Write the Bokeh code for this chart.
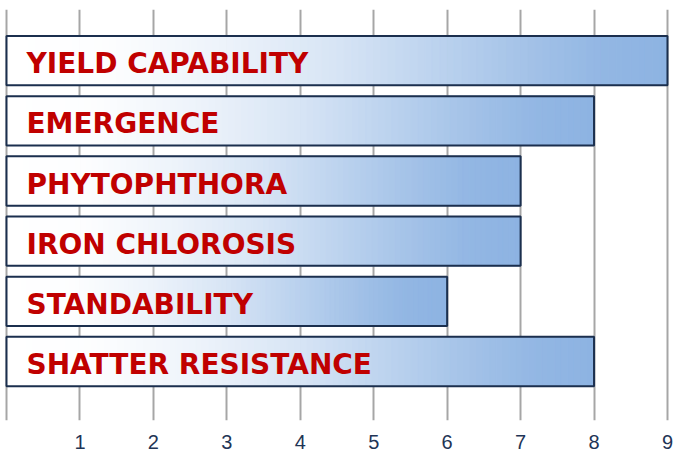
from bokeh.plotting import figure
from bokeh.models import Range1d, FixedTicker
from bokeh.core.properties import value
from bokeh.embed import file_html
from bokeh.resources import INLINE

categories = ["YIELD CAPABILITY", "EMERGENCE", "PHYTOPHTHORA",
              "IRON CHLOROSIS", "STANDABILITY", "SHATTER RESISTANCE"]
scores = [9, 8, 7, 7, 6, 8]
ticks = [0, 1, 2, 3, 4, 5, 6, 7, 8, 9]

p = figure(width=673, height=453, output_backend="svg", toolbar_location=None,
           x_range=Range1d(-0.0817, 9.082), y_range=Range1d(5.98, -0.85),
           min_border_left=0, min_border_right=0, min_border_top=9,
           min_border_bottom=33)
p.outline_line_color = None
p.background_fill_color = "white"
p.border_fill_color = "white"

p.yaxis.visible = False
p.ygrid.visible = False
p.xgrid.ticker = FixedTicker(ticks=ticks)
p.xgrid.grid_line_color = "#A6A6A6"
p.xgrid.grid_line_width = 2

ax = p.xaxis[0]
ax.ticker = FixedTicker(ticks=ticks[1:])
ax.axis_line_color = None
ax.major_tick_line_color = None
ax.minor_tick_line_color = None
ax.major_tick_out = 0
ax.major_tick_in = 0
ax.major_label_standoff = 14
ax.major_label_text_font = "Liberation Sans"
ax.major_label_text_font_size = "20px"
ax.major_label_text_color = "#1F3556"

# gradient profile (position fraction -> blend fraction)
stops = [(0.0, 0.0), (0.15, 0.02), (0.33, 0.16), (0.5, 0.35),
         (0.66, 0.6), (0.8, 0.82), (0.9, 0.95), (1.0, 1.0)]


def blend(t):
    for (a, fa), (b, fb) in zip(stops[:-1], stops[1:]):
        if t <= b:
            return fa + (fb - fa) * (t - a) / (b - a)
    return 1.0


N = 90
start = (255, 255, 255)
end = (141, 179, 226)
lefts, rights, tops, bottoms, colors = [], [], [], [], []
h = 0.41
for i, v in enumerate(scores):
    for k in range(N):
        f = blend((k + 0.5) / N)
        c = tuple(int(round(s + (e - s) * f)) for s, e in zip(start, end))
        lefts.append(v * k / N)
        rights.append(v * (k + 1) / N)
        tops.append(i - h)
        bottoms.append(i + h)
        colors.append("#%02x%02x%02x" % c)
p.quad(left=lefts, right=rights, top=tops, bottom=bottoms,
       fill_color=colors, line_color=colors, line_width=1)

ys = list(range(len(categories)))
p.hbar(y=ys, right=scores, left=0, height=2 * h, fill_color=None,
       line_color="#1B2F4E", line_width=2)

p.text(x=[0.272] * len(categories), y=ys, text=categories,
       text_font=value("DejaVu Sans"), text_font_style="bold",
       text_font_size="28px", text_color="#C00000",
       text_baseline="alphabetic", text_align="left", y_offset=3)

open("out.html", "w").write(file_html(p, INLINE))
